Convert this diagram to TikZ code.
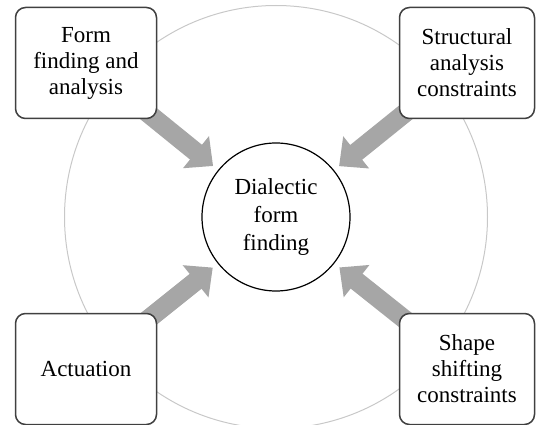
\documentclass[tikz,border=0pt]{standalone}
\usepackage{fontspec}
\setmainfont{Liberation Serif}
\usetikzlibrary{arrows.meta,backgrounds}
\definecolor{arrowgray}{HTML}{A6A6A6}
\definecolor{ringgray}{HTML}{C8C8C8}
\definecolor{boxgray}{HTML}{404040}
\begin{document}
\begin{tikzpicture}[x=1pt, y=-1pt,
        inputbox/.style={draw=boxgray, line width=1.5pt, fill=white, rounded corners=10pt,
            minimum width=141pt, minimum height=111pt, align=center, inner sep=2pt,
            font=\fontsize{23}{26}\selectfont},
        pusharrow/.style={draw=arrowgray, line width=19pt,
            -{Triangle[width=40pt, length=22pt]}, shorten >=81pt}]
            \useasboundingbox (0,0) rectangle (536,425);

            \node[draw, circle, line width=1.2pt, minimum size=148pt, align=center,
                font=\fontsize{23}{28}\selectfont] (dff) at (276,217) {Dialectic\\form\\finding};

            \node[inputbox] (ffa) at (86,63) {Form\\finding and\\analysis};
            \node[inputbox, minimum width=135pt] (sac) at (467,63) {Structural\\analysis\\constraints};
            \node[inputbox] (act) at (86,369) {Actuation};
            \node[inputbox, minimum width=135pt] (ssc) at (467,369) {Shape\\shifting\\constraints};

            % ring and arrows go behind the boxes
            \begin{scope}[on background layer]
                \draw[ringgray, line width=1pt] (dff.center) circle (211.5pt);
                \foreach \src in {ffa, sac, act, ssc}
                    \draw[pusharrow] (\src.center) -- (dff.center);
            \end{scope}
        \end{tikzpicture}
\end{document}
